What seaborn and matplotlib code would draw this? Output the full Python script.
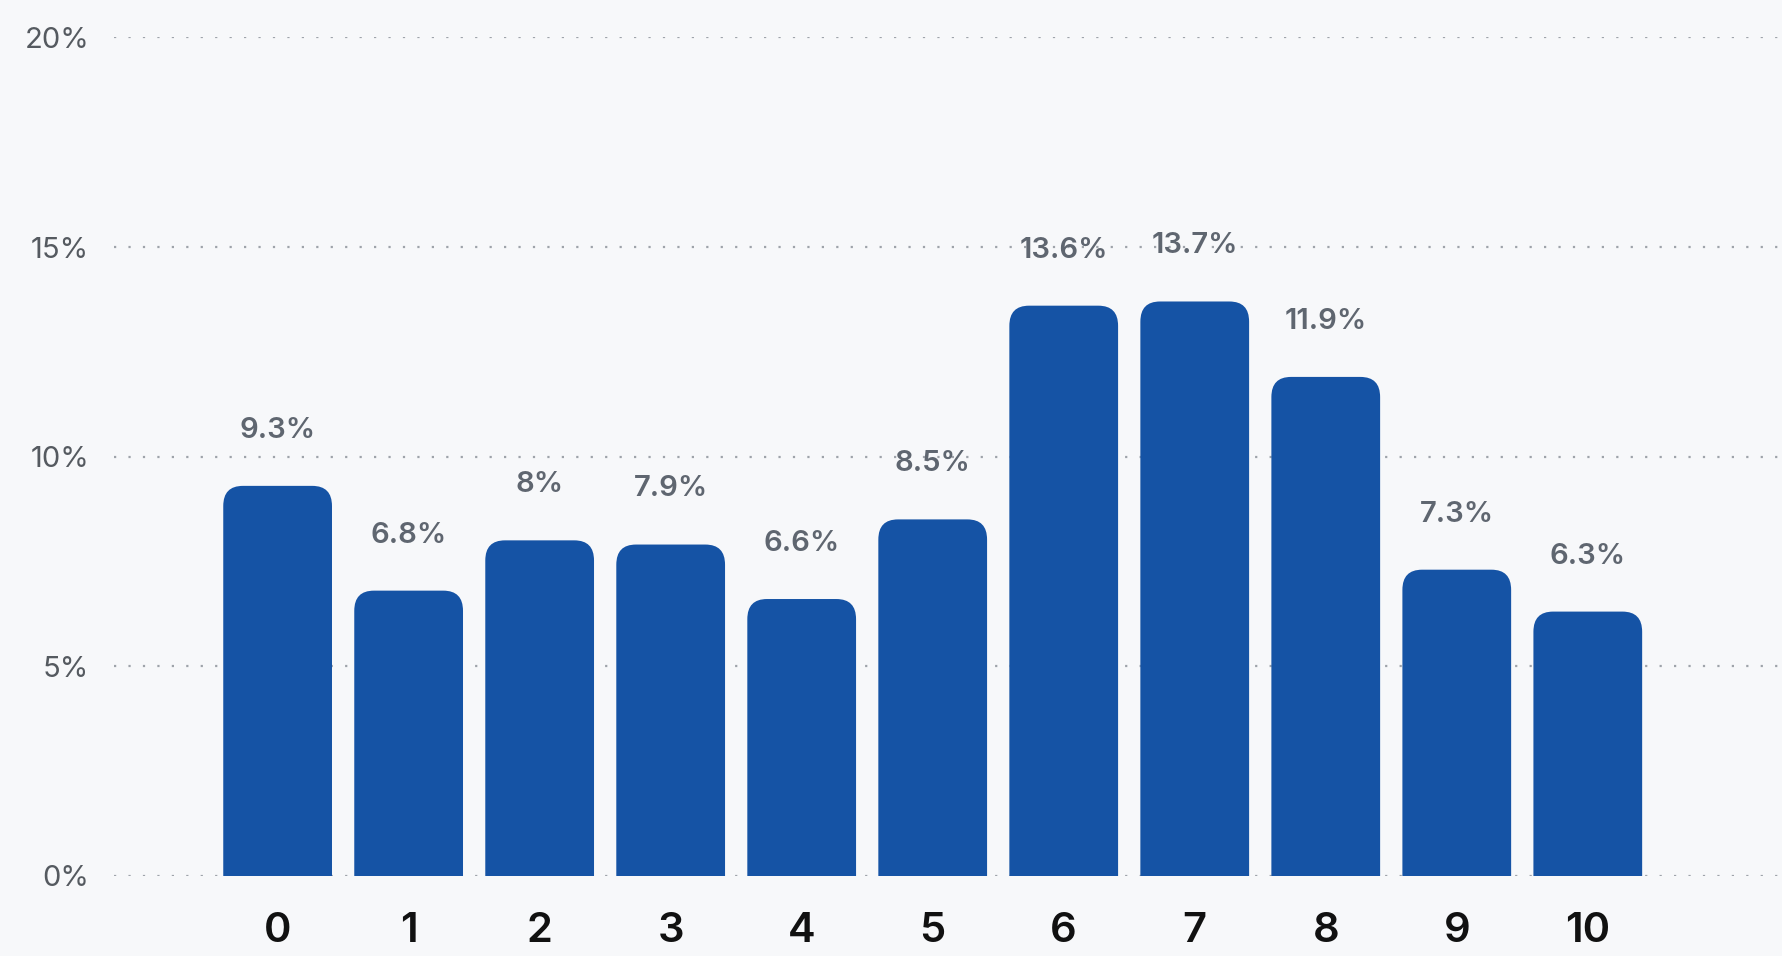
import pandas as pd
import matplotlib.pyplot as plt
import seaborn as sns
from matplotlib.patches import FancyBboxPatch
from matplotlib.ticker import FuncFormatter

# Datos
categorias = ["0", "1", "2", "3", "4", "5", "6", "7", "8", "9", "10"]
valores = [9.3, 6.8, 8.0, 7.9, 6.6, 8.5, 13.6, 13.7, 11.9, 7.3, 6.3]
yticks = [0, 5, 10, 15, 20]

df = pd.DataFrame({"cat": categorias, "val": valores})

bg = "#f7f8fa"
azul = "#1553a5"

sns.set_theme(style="white")
plt.rcParams["font.family"] = ["Inter", "DejaVu Sans"]

fig = plt.figure(figsize=(17.83, 9.56), dpi=100, facecolor=bg)
ax = fig.add_axes([0.064, 0.0841, 0.936, 0.8767])
ax.set_facecolor(bg)

sns.barplot(data=df, x="cat", y="val", color=azul, width=0.83, saturation=1, ax=ax, zorder=3)

# esquinas redondeadas arriba (la parte de abajo queda recortada por el eje)
for p in list(ax.patches):
    x0, w, h = p.get_x(), p.get_width(), p.get_height()
    nuevo = FancyBboxPatch((x0, -2), w, h + 2,
                           boxstyle="round,pad=0,rounding_size=0.15",
                           mutation_aspect=3.2, facecolor=azul, edgecolor="none", zorder=3)
    p.remove()
    ax.add_patch(nuevo)

for i, v in enumerate(valores):
    ax.annotate(f"{v:g}%", (i, v), xytext=(0, 40), textcoords="offset points",
                ha="center", va="center", fontsize=21, fontweight="semibold", color="#5f6670")

ax.set_xlim(-1.248, 11.49)
ax.set_ylim(0, 20)
ax.set_yticks(yticks)
ax.yaxis.set_major_formatter(FuncFormatter(lambda v, _: f"{v:g}%"))
for y in yticks:
    ax.axhline(y, color="#9ea3aa", linewidth=1.6, linestyle=(0, (1, 5.5)), zorder=1)

ax.tick_params(axis="y", length=0, pad=18, labelsize=21, labelcolor="#555a60")
ax.tick_params(axis="x", length=0, pad=26, labelsize=30, labelcolor="#111111")
for t in ax.get_xticklabels():
    t.set_fontweight("semibold")
ax.set_xlabel("")
ax.set_ylabel("")
for s in ax.spines.values():
    s.set_visible(False)

fig.savefig("out.png", dpi=100, facecolor=bg)
